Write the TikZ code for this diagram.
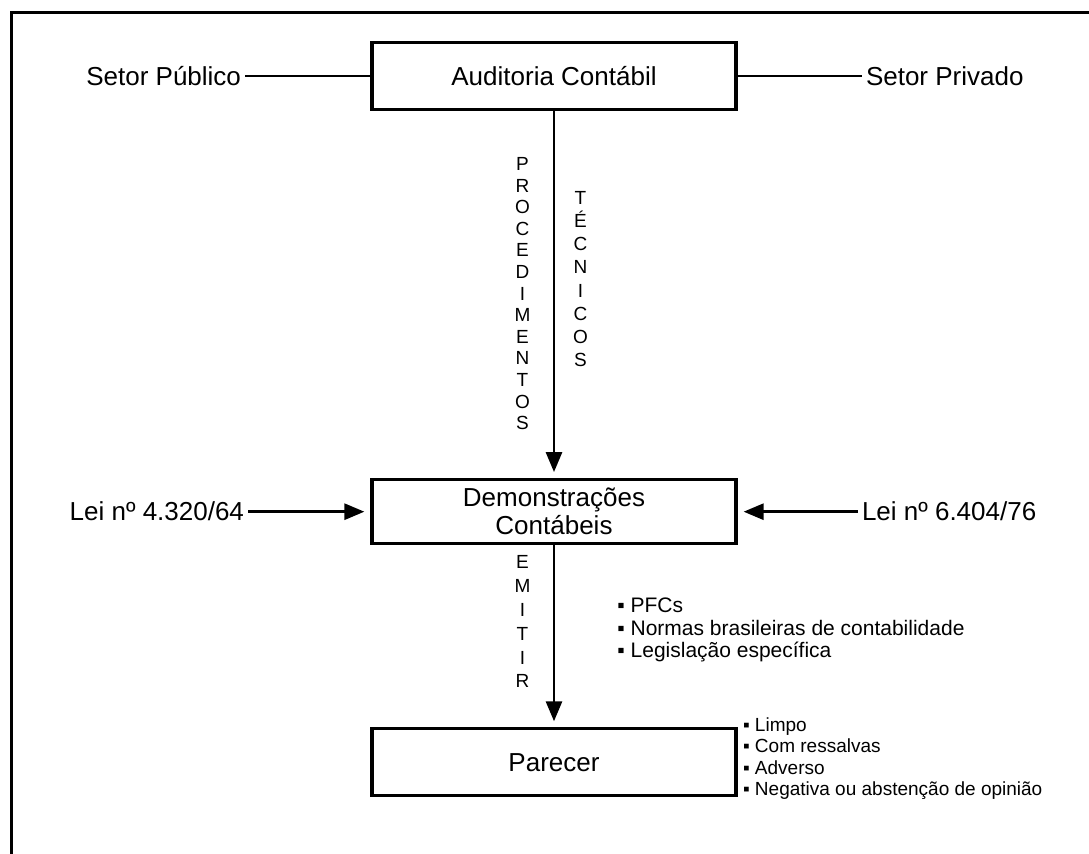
\documentclass[tikz,border=0pt]{standalone}
\usepackage{fontspec}
\setmainfont{Liberation Sans}
\usetikzlibrary{arrows.meta, positioning, calc}

\begin{document}
\begin{tikzpicture}[
      node distance=183.5pt and 62pt,
      box/.style={rectangle, draw, line width=1.6pt, minimum width=182pt,
                  minimum height=33.5pt, inner sep=1.5pt, align=center,
                  font=\fontsize{13}{14}\selectfont},
      sidetext/.style={inner sep=2pt, font=\fontsize{13}{14}\selectfont},
      letters/.style={inner sep=0pt, align=center},
      bullets/.style={inner sep=0pt, align=left, anchor=west},
      link/.style={line width=1.4pt},
      arrow/.style={-{Triangle[length=10pt,width=8pt]}, line width=1.4pt, shorten >=3pt}
    ]
        \useasboundingbox (0,0) rectangle (544.5pt,-427pt);
        % moldura
        \draw[line width=1.5pt] (5.5pt,-427pt) -- (5.5pt,-6.5pt) -- (544.5pt,-6.5pt);

        \node[box] (aud) at (277pt,-38pt) {Auditoria Contábil};
        \node[box, below=of aud, minimum height=32pt] (dem) {Demonstrações\\Contábeis};
        \node[box, below=91pt of dem] (par) {Parecer};

        \node[sidetext, left=62.5pt of aud] (pub) {Setor Público};
        \node[sidetext, right=62pt of aud] (priv) {Setor Privado};
        \node[sidetext, left=61pt of dem] (lei1) {Lei nº 4.320/64};
        \node[sidetext, right=60pt of dem] (lei2) {Lei nº 6.404/76};

        \node[letters, font=\fontsize{9.5}{10.8}\selectfont] (proc) at ($(aud.south)!0.5!(dem.north)+(-15.75pt,0.5pt)$) {P\\R\\O\\C\\E\\D\\I\\M\\E\\N\\T\\O\\S};
        \node[letters, font=\fontsize{9.5}{11.55}\selectfont] (tec) at ($(aud.south)!0.5!(dem.north)+(13.25pt,7.75pt)$) {T\\É\\C\\N\\I\\C\\O\\S};
        \node[letters, font=\fontsize{9.5}{11.9}\selectfont] (emit) at ($(dem.south)!0.5!(par.north)+(-15.75pt,7.25pt)$) {E\\M\\I\\T\\I\\R};

        \node[bullets, font=\fontsize{10.5}{11.25}\selectfont] (normas) at ($(dem.south)+(31.5pt,-42.5pt)$) {▪ PFCs\\▪ Normas brasileiras de contabilidade\\▪ Legislação específica};
        \node[bullets, font=\fontsize{9.5}{10.75}\selectfont] (tipos) at ($(par.east)+(2.5pt,2pt)$) {▪ Limpo\\▪ Com ressalvas\\▪ Adverso\\▪ Negativa ou abstenção de opinião};

        \draw[link] (pub) -- (aud);
        \draw[link] (aud) -- (priv);
        \draw[arrow] (lei1) -- (dem);
        \draw[arrow] (lei2) -- (dem);
        \draw[arrow] (aud) -- (dem);
        \draw[arrow] (dem) -- (par);
    \end{tikzpicture}
\end{document}
